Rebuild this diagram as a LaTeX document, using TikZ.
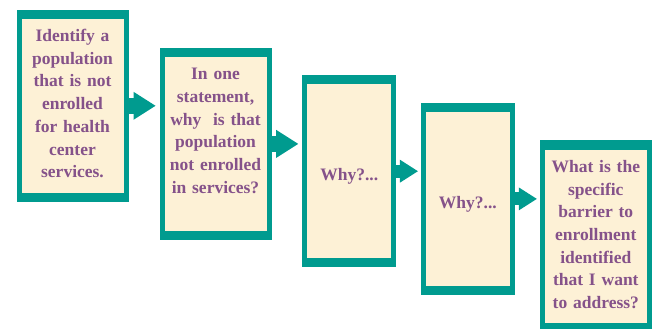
\documentclass[tikz,border=0pt]{standalone}
\usepackage{fontspec}
\setmainfont{Liberation Serif}
\usetikzlibrary{arrows.meta,calc}
\definecolor{tealc}{RGB}{0,155,143}
\definecolor{creamc}{RGB}{253,241,214}
\definecolor{purplec}{RGB}{133,82,138}
\tikzset{
  box/.style={rectangle, fill=tealc, minimum height=192.5pt, inner sep=0pt, outer sep=0pt,
    path picture={\fill[creamc] ($(path picture bounding box.south west)+(5pt,9.5pt)$) rectangle ($(path picture bounding box.north east)+(-5pt,-9.5pt)$);}},
  widebox/.style={box, minimum width=112pt},
  narrowbox/.style={box, minimum width=94pt},
  txt/.style={font=\bfseries\fontsize{17.5}{22.7}\selectfont, text=purplec, align=center, inner sep=0pt, anchor=base, text width=100pt},
  bigarrow/.style={draw=tealc, line width=16pt, -{Triangle[length=22pt,width=28pt,line width=0pt]}, shorten >=4pt},
  smallarrow/.style={draw=tealc, line width=13pt, -{Triangle[length=18pt,width=23pt,line width=0pt]}, shorten >=3pt}
}
\begin{document}
\begin{tikzpicture}[x=1pt,y=1pt]
\useasboundingbox (0,0) rectangle (656,329);
\node[widebox] (b1) at (72.5,223.2) {};
\node[widebox] (b2) at (215.5,185.1) {};
\node[narrowbox] (b3) at (349.2,157.8) {};
\node[narrowbox] (b4) at (467.9,130.1) {};
\node[widebox] (b5) at (595.8,92.3) {};

\node[txt] (t1) at ($(b1.north)+(0,-32)$) {Identify a\\population\\that is not\\enrolled\\for health\\center\\services.};
\node[txt] (t2) at ($(b2.north)+(0,-32)$) {In one\\statement,\\why\ \ is that\\population\\not enrolled\\in services?};
\node[txt] (t3) at ($(b3.center)+(0,-9.7)$) {Why?...};
\node[txt] (t4) at ($(b4.center)+(0,-9.7)$) {Why?...};
\node[txt] (t5) at ($(b5.north)+(0,-32)$) {What is the\\specific\\barrier to\\enrollment\\identified\\that I want\\to address?};

\draw[bigarrow] (b1.east) -- (b1.east -| b2.west);
\draw[bigarrow] (b2.east) -- (b2.east -| b3.west);
\draw[smallarrow] (b3.east) -- (b3.east -| b4.west);
\draw[smallarrow] (b4.east) -- (b4.east -| b5.west);
\end{tikzpicture}
\end{document}
